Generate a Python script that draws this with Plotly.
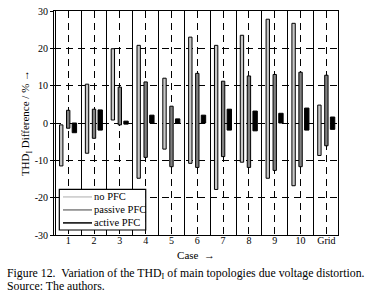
import plotly.graph_objects as go

cases = ["1", "2", "3", "4", "5", "6", "7", "8", "9", "10", "Grid"]
xpos = list(range(1, len(cases) + 1))

no_pfc_low = [-11.5, -8.1, 0.8, -14.8, -7.0, -10.8, -17.8, -10.5, -14.8, -16.8, -8.7]
no_pfc_high = [-0.5, 10.4, 19.9, 20.8, 12.0, 23.0, 20.8, 23.5, 27.8, 26.7, 4.8]
passive_low = [-1.4, -4.1, -0.5, -9.2, -11.7, -11.9, -9.0, -11.9, -12.7, -11.7, -6.1]
passive_high = [3.4, 3.7, 9.6, 11.0, 4.5, 13.3, 11.2, 12.6, 13.0, 13.6, 12.8]
active_low = [-2.6, -1.9, -0.3, 0.0, 0.0, 0.0, -1.9, -2.1, 0.0, -1.9, -1.7]
active_high = [0.0, 3.5, 0.5, 2.1, 1.1, 2.1, 3.7, 3.2, 2.6, 4.0, 1.6]

y_ticks = [-30, -20, -10, 0, 10, 20, 30]
y_tick_labels = ["-30", "-20", "-10", "0", "10", "20", "30"]

series = [
    ("no PFC", no_pfc_low, no_pfc_high, "#c8c8c8", -0.335, 0.13),
    ("passive PFC", passive_low, passive_high, "#808080", -0.065, 0.13),
    ("active PFC", active_low, active_high, "#000000", 0.155, 0.17),
]

SERIF = "Liberation Serif"
fig = go.Figure()
for name, lo, hi, col, off, w in series:
    fig.add_trace(go.Bar(
        x=xpos, base=lo, y=[h - l for h, l in zip(hi, lo)],
        offset=off, width=w, marker=dict(color=col, line=dict(color="black", width=1)),
        name=name, showlegend=False,
    ))

fig.update_layout(
    width=378, height=298,
    margin=dict(l=54, r=40, t=11, b=63, autoexpand=False),
    paper_bgcolor="white", plot_bgcolor="white",
    barmode="overlay",
    showlegend=False,
    font=dict(family=SERIF, size=10, color="black"),
    xaxis=dict(
        range=[0.45, 11.45], tickvals=xpos, ticktext=cases,
        showgrid=True, gridcolor="black", gridwidth=1.2, griddash="7px,5px",
        minor=dict(tick0=0.5, dtick=1, showgrid=True, gridcolor="black", gridwidth=1.2, griddash="solid"),
        showline=True, linecolor="black", linewidth=1, mirror=True,
        ticks="", zeroline=False, automargin=False, ticklabelstandoff=-4,
        title=dict(text="Case  \u2192", font=dict(family=SERIF, size=11), standoff=6),
    ),
    yaxis=dict(
        range=[-30, 30], tickvals=y_ticks, ticktext=y_tick_labels,
        showgrid=True, gridcolor="black", gridwidth=1.2, griddash="7px,5px",
        zeroline=False, automargin=False,
        showline=True, linecolor="black", linewidth=1, mirror=True,
        ticks="outside", ticklen=3, tickcolor="black",
        title=dict(text="THD<sub>I</sub> Difference / % \u2192", font=dict(family=SERIF, size=11), standoff=2),
    ),
)

# legend box (drawn manually to match the compact original legend)
fig.add_shape(type="rect", xref="paper", yref="paper", x0=0.0187, x1=0.323, y0=0.0223, y1=0.204,
              fillcolor="white", line=dict(color="black", width=1.2), layer="above")
legend_y = [0.170, 0.112, 0.054]
for (name, lo, hi, col, off, w), ly in zip(series, legend_y):
    fig.add_shape(type="line", xref="paper", yref="paper", x0=0.0317, x1=0.1338, y0=ly, y1=ly,
                  line=dict(color=col, width=1.5), layer="above")
    fig.add_annotation(xref="paper", yref="paper", x=0.135, y=ly, xanchor="left", yanchor="middle",
                       text=name, showarrow=False, font=dict(family=SERIF, size=10.5))

fig.add_annotation(
    xref="paper", yref="paper", x=-0.1725, y=-0.17, xanchor="left", yanchor="middle",
    text="Figure 12.  Variation of the THD<sub>I</sub> of main topologies due voltage distortion.",
    showarrow=False, font=dict(family=SERIF, size=11.8),
)
fig.add_annotation(
    xref="paper", yref="paper", x=-0.1725, y=-0.228, xanchor="left", yanchor="middle",
    text="Source: The authors.", showarrow=False, font=dict(family=SERIF, size=11.8),
)

fig.write_html("out.html", config={"displayModeBar": False},
               post_script="document.body.style.margin='0px';")
